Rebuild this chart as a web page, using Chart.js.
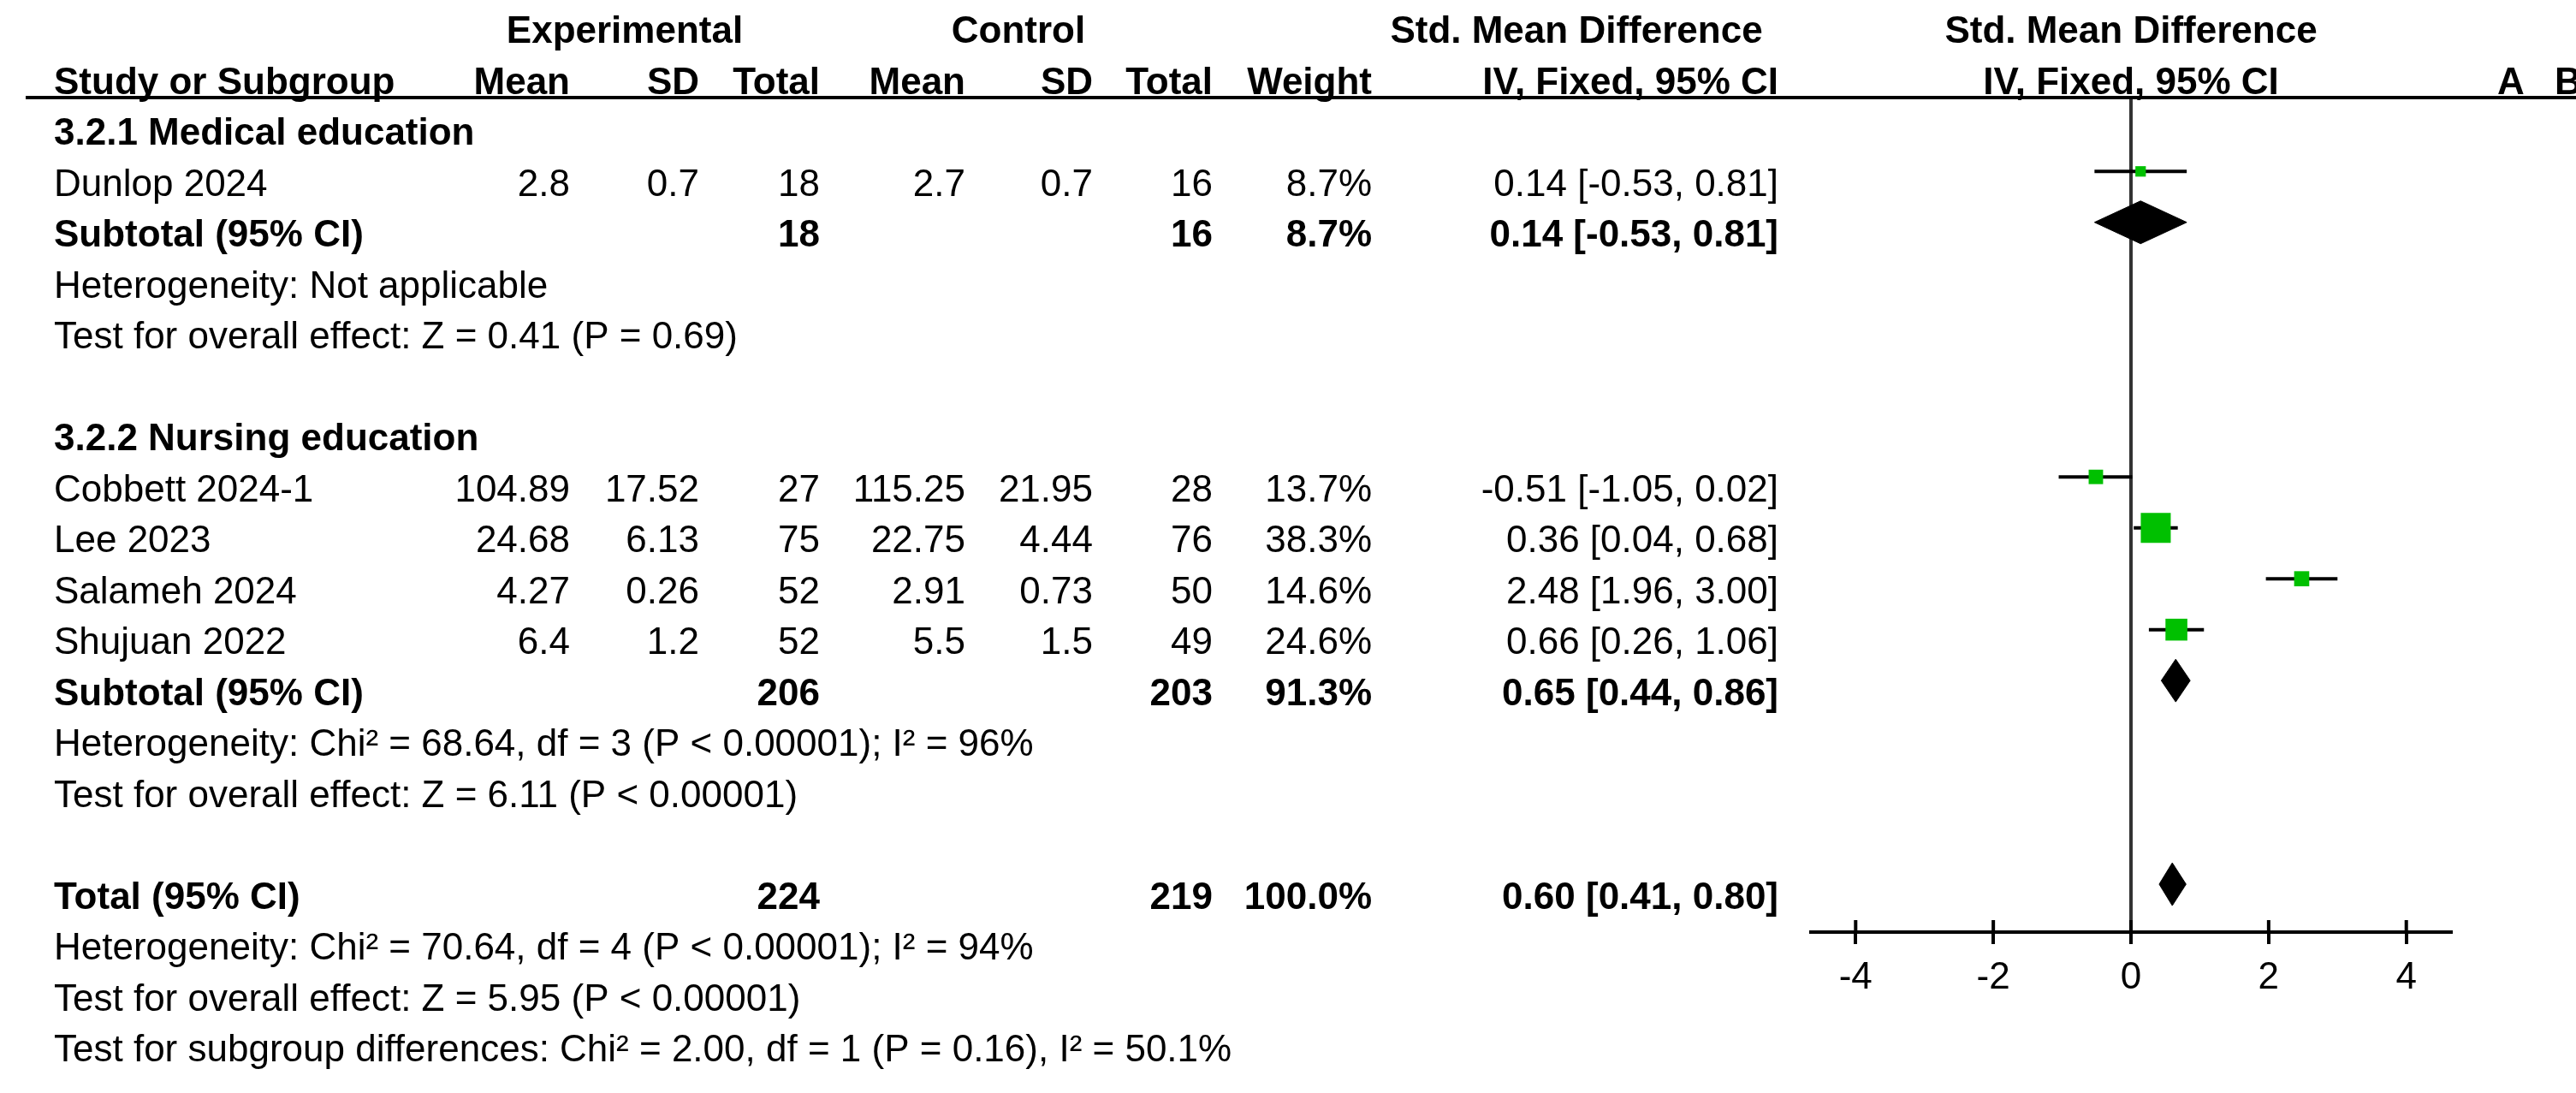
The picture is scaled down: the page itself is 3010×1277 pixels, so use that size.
<!DOCTYPE html>
<html>
<head>
<meta charset="utf-8">
<title>Std. Mean Difference forest plot</title>
<script src="https://cdn.jsdelivr.net/npm/chart.js@4.4.1/dist/chart.umd.min.js"></script>
<style>
  html, body { margin: 0; padding: 0; background: #fff; overflow: hidden; }
  #wrap { width: 3010px; height: 1277px; position: relative; }
</style>
</head>
<body>
<div id="wrap"><canvas id="forest"></canvas></div>
<script>
// individual studies
const studies = ['Dunlop 2024', 'Cobbett 2024-1', 'Lee 2023', 'Salameh 2024', 'Shujuan 2022'];
const studyRows = [2, 8, 9, 10, 11];
const expMean = [2.8, 104.89, 24.68, 4.27, 6.4];
const expSD = [0.7, 17.52, 6.13, 0.26, 1.2];
const expN = [18, 27, 75, 52, 52];
const ctlMean = [2.7, 115.25, 22.75, 2.91, 5.5];
const ctlSD = [0.7, 21.95, 4.44, 0.73, 1.5];
const ctlN = [16, 28, 76, 50, 49];
const weight = [8.7, 13.7, 38.3, 14.6, 24.6];
const smd = [0.14, -0.51, 0.36, 2.48, 0.66];
const ciLow = [-0.53, -1.05, 0.04, 1.96, 0.26];
const ciHigh = [0.81, 0.02, 0.68, 3.00, 1.06];

// subtotals and total
const pooledLabels = ['Subtotal (95% CI)', 'Subtotal (95% CI)', 'Total (95% CI)'];
const pooledRows = [3, 12, 16];
const pooledExpN = [18, 206, 224];
const pooledCtlN = [16, 203, 219];
const pooledWeight = [8.7, 91.3, 100.0];
const pooledSmd = [0.14, 0.65, 0.60];
const pooledLow = [-0.53, 0.44, 0.41];
const pooledHigh = [0.81, 0.86, 0.80];

const subgroups = ['3.2.1 Medical education', '3.2.2 Nursing education'];
const subgroupRows = [1, 7];

const notes = [
  'Heterogeneity: Not applicable',
  'Test for overall effect: Z = 0.41 (P = 0.69)',
  'Heterogeneity: Chi\u00b2 = 68.64, df = 3 (P < 0.00001); I\u00b2 = 96%',
  'Test for overall effect: Z = 6.11 (P < 0.00001)',
  'Heterogeneity: Chi\u00b2 = 70.64, df = 4 (P < 0.00001); I\u00b2 = 94%',
  'Test for overall effect: Z = 5.95 (P < 0.00001)',
  'Test for subgroup differences: Chi\u00b2 = 2.00, df = 1 (P = 0.16), I\u00b2 = 50.1%'
];
const noteRows = [4, 5, 13, 14, 17, 18, 19];

const xTicks = [-4, -2, 0, 2, 4];

// layout / style
const FONT = '"Liberation Sans", Arial, sans-serif';
const col = { study: 63, expMean: 666, expSD: 817, expN: 958, ctlMean: 1128, ctlSD: 1277,
              ctlN: 1417, weight: 1603, ci: 2078, plot: 2490 };
const markShift = 0.48;
const diamondHalf = 0.42;
const squareSide = w => 2.63 * Math.pow(w, 0.71);

function ciText(e, l, h) {
  return e.toFixed(2) + ' [' + l.toFixed(2) + ', ' + h.toFixed(2) + ']';
}

function put(ctx, text, x, y, align, bold) {
  ctx.font = (bold ? 'bold ' : '') + '44px ' + FONT;
  ctx.textAlign = align;
  ctx.fillText(text, x, y);
}

const tableText = {
  id: 'tableText',
  afterDraw(chart) {
    const ctx = chart.ctx;
    const ys = chart.scales.y, xs = chart.scales.x, area = chart.chartArea;
    const row = r => ys.getPixelForValue(r);
    ctx.save();
    ctx.fillStyle = '#000';
    ctx.textBaseline = 'alphabetic';

    // header
    put(ctx, 'Experimental', 730, row(-1), 'center', true);
    put(ctx, 'Control', 1190, row(-1), 'center', true);
    put(ctx, 'Std. Mean Difference', 1842, row(-1), 'center', true);
    put(ctx, 'Std. Mean Difference', col.plot, row(-1), 'center', true);
    put(ctx, 'Study or Subgroup', col.study, row(0), 'left', true);
    put(ctx, 'Mean', col.expMean, row(0), 'right', true);
    put(ctx, 'SD', col.expSD, row(0), 'right', true);
    put(ctx, 'Total', col.expN, row(0), 'right', true);
    put(ctx, 'Mean', col.ctlMean, row(0), 'right', true);
    put(ctx, 'SD', col.ctlSD, row(0), 'right', true);
    put(ctx, 'Total', col.ctlN, row(0), 'right', true);
    put(ctx, 'Weight', col.weight, row(0), 'right', true);
    put(ctx, 'IV, Fixed, 95% CI', col.ci, row(0), 'right', true);
    put(ctx, 'IV, Fixed, 95% CI', col.plot, row(0), 'center', true);
    put(ctx, 'A', 2918, row(0), 'left', true);
    put(ctx, 'B', 2985, row(0), 'left', true);
    ctx.fillRect(30, area.top - 2, chart.width - 30, 4);

    subgroups.forEach((s, i) => put(ctx, s, col.study, row(subgroupRows[i]), 'left', true));

    studies.forEach((s, i) => {
      const b = row(studyRows[i]);
      put(ctx, s, col.study, b, 'left');
      put(ctx, String(expMean[i]), col.expMean, b, 'right');
      put(ctx, String(expSD[i]), col.expSD, b, 'right');
      put(ctx, String(expN[i]), col.expN, b, 'right');
      put(ctx, String(ctlMean[i]), col.ctlMean, b, 'right');
      put(ctx, String(ctlSD[i]), col.ctlSD, b, 'right');
      put(ctx, String(ctlN[i]), col.ctlN, b, 'right');
      put(ctx, weight[i].toFixed(1) + '%', col.weight, b, 'right');
      put(ctx, ciText(smd[i], ciLow[i], ciHigh[i]), col.ci, b, 'right');
    });

    pooledLabels.forEach((s, i) => {
      const b = row(pooledRows[i]);
      put(ctx, s, col.study, b, 'left', true);
      put(ctx, String(pooledExpN[i]), col.expN, b, 'right', true);
      put(ctx, String(pooledCtlN[i]), col.ctlN, b, 'right', true);
      put(ctx, pooledWeight[i].toFixed(1) + '%', col.weight, b, 'right', true);
      put(ctx, ciText(pooledSmd[i], pooledLow[i], pooledHigh[i]), col.ci, b, 'right', true);
    });

    notes.forEach((s, i) => put(ctx, s, col.study, row(noteRows[i]), 'left'));

    // upper half of the axis ticks
    xTicks.forEach(v => {
      const px = xs.getPixelForValue(v);
      ctx.fillRect(px - 2, area.bottom - 14, 4, 14);
    });
    ctx.restore();
  }
};

const ciSets = studies.map((s, i) => ({
  type: 'line',
  label: s,
  data: [{ x: ciLow[i], y: studyRows[i] - markShift }, { x: ciHigh[i], y: studyRows[i] - markShift }],
  borderColor: '#000',
  borderWidth: 4,
  pointRadius: 0,
  fill: false,
  order: 2
}));

const squareSet = {
  type: 'scatter',
  label: 'Studies',
  data: studies.map((s, i) => ({ x: smd[i], y: studyRows[i] - markShift })),
  pointStyle: 'rect',
  pointRadius: weight.map(w => squareSide(w) / Math.SQRT2),
  backgroundColor: '#00c000',
  borderWidth: 0,
  order: 1
};

const diamondSets = pooledRows.map((r, i) => {
  const yc = r - markShift;
  return {
    type: 'line',
    label: pooledLabels[i],
    data: [
      { x: pooledLow[i], y: yc },
      { x: pooledSmd[i], y: yc - diamondHalf },
      { x: pooledHigh[i], y: yc },
      { x: pooledSmd[i], y: yc + diamondHalf },
      { x: pooledLow[i], y: yc }
    ],
    borderColor: '#000',
    borderWidth: 1,
    backgroundColor: '#000',
    fill: 'shape',
    pointRadius: 0,
    tension: 0,
    order: 3
  };
});

new Chart(document.getElementById('forest'), {
  type: 'scatter',
  data: { datasets: [squareSet].concat(ciSets, diamondSets) },
  options: {
    responsive: true,
    maintainAspectRatio: false,
    devicePixelRatio: 1,
    animation: false,
    events: [],
    layout: { padding: { left: 2116, right: 146, top: 114, bottom: 88 } },
    plugins: { legend: { display: false }, tooltip: { enabled: false } },
    scales: {
      x: {
        type: 'linear',
        min: -4.65,
        max: 4.65,
        afterBuildTicks: s => { s.ticks = xTicks.map(v => ({ value: v })); },
        afterFit: s => { s.height = 100; },
        border: { display: true, color: '#000', width: 4 },
        grid: {
          drawOnChartArea: true,
          color: c => (c.tick && c.tick.value === 0) ? '#333' : 'rgba(0,0,0,0)',
          lineWidth: 4,
          drawTicks: true,
          tickLength: 14,
          tickWidth: 4,
          tickColor: '#000'
        },
        ticks: {
          color: '#000',
          padding: 13,
          maxRotation: 0,
          autoSkip: false,
          font: { family: FONT, size: 44 }
        }
      },
      y: {
        type: 'linear',
        reverse: true,
        min: 0.07,
        max: 16.46,
        display: false
      }
    }
  },
  plugins: [tableText]
});
</script>
</body>
</html>
